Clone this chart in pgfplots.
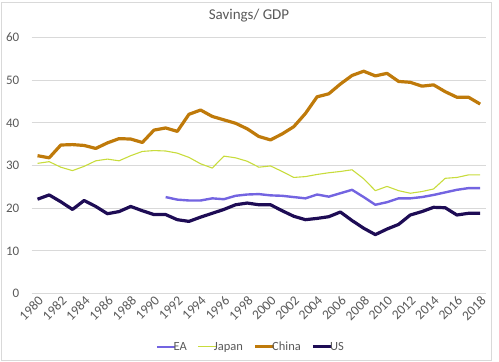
\documentclass[border=0pt]{standalone}
\usepackage{fontspec}
\setmainfont{Carlito}
\usepackage{pgfplots}
\pgfplotsset{compat=1.18}
\definecolor{txtgray}{RGB}{89,89,89}
\definecolor{gridgray}{RGB}{217,217,217}
\definecolor{frame}{RGB}{217,217,217}
\definecolor{eacol}{RGB}{115,100,225}
\definecolor{jpcol}{RGB}{200,220,60}
\definecolor{cncol}{RGB}{191,122,10}
\definecolor{uscol}{RGB}{30,12,85}
\begin{document}
\begin{tikzpicture}
\begin{axis}[
  at={(0,0)}, anchor=south west,
  scale only axis, width=454.3bp, height=256bp,
  xmin=1979.5, xmax=2018.5, ymin=0, ymax=60,
  xtick={1980,1982,...,2018},
  ytick={0,10,...,60},
  /pgf/number format/1000 sep={},
  /pgf/number format/assume math mode=true,
  ymajorgrids, grid style={gridgray, line width=0.75bp},
  axis line style={draw=none},
  major tick length=0pt,
  yticklabel style={font=\fontsize{13bp}{15bp}\selectfont, text=txtgray, xshift=-9bp},
  xticklabel style={font=\fontsize{13.5bp}{15bp}\selectfont, text=txtgray, rotate=45, anchor=north east, inner sep=1bp},
  legend columns=4,
  legend style={draw=none, fill=none, at={(0.4805,-0.208)}, anchor=center,
    font=\fontsize{12.5bp}{14bp}\selectfont, text=txtgray,
    nodes={inner xsep=0.5bp, inner ysep=1bp},
    /tikz/every odd column/.append style={column sep=0bp},
    /tikz/every even column/.append style={column sep=10bp},
    inner sep=0pt},
  legend image code/.code={\draw[#1] (0bp,0bp) -- (15bp,0bp);
    \draw[#1, line cap=butt, overlay] (14bp,0bp) -- (18.5bp,0bp);},
  legend cell align=left,
]
\addplot[eacol, line width=2.4bp, line join=round] coordinates {
(1991,22.6)(1992,22.0)(1993,21.8)(1994,21.8)(1995,22.3)(1996,22.1)(1997,22.9)(1998,23.2)(1999,23.3)(2000,23.0)
(2001,22.9)(2002,22.6)(2003,22.3)(2004,23.2)(2005,22.7)(2006,23.5)(2007,24.3)(2008,22.6)(2009,20.8)(2010,21.4)
(2011,22.3)(2012,22.3)(2013,22.6)(2014,23.1)(2015,23.7)(2016,24.3)(2017,24.7)(2018,24.7)};
\addlegendentry{EA}
\addplot[jpcol, line width=1.1bp, line join=round] coordinates {
(1980,30.5)(1981,30.9)(1982,29.6)(1983,28.8)(1984,29.8)(1985,31.1)(1986,31.5)(1987,31.1)(1988,32.3)(1989,33.3)
(1990,33.5)(1991,33.4)(1992,32.9)(1993,31.9)(1994,30.4)(1995,29.4)(1996,32.2)(1997,31.8)(1998,31.0)(1999,29.6)
(2000,29.9)(2001,28.6)(2002,27.2)(2003,27.4)(2004,27.9)(2005,28.3)(2006,28.6)(2007,29.0)(2008,26.9)(2009,24.1)
(2010,25.1)(2011,24.1)(2012,23.5)(2013,23.9)(2014,24.5)(2015,27.0)(2016,27.2)(2017,27.8)(2018,27.8)};
\addlegendentry{Japan}
\addplot[cncol, line width=3.2bp, line join=round] coordinates {
(1980,32.3)(1981,31.8)(1982,34.8)(1983,34.9)(1984,34.7)(1985,34.0)(1986,35.3)(1987,36.3)(1988,36.2)(1989,35.4)
(1990,38.3)(1991,38.8)(1992,38.0)(1993,42.0)(1994,43.0)(1995,41.5)(1996,40.7)(1997,39.9)(1998,38.6)(1999,36.8)
(2000,36.0)(2001,37.4)(2002,39.1)(2003,42.2)(2004,46.1)(2005,46.8)(2006,49.1)(2007,51.1)(2008,52.1)(2009,51.0)
(2010,51.6)(2011,49.7)(2012,49.5)(2013,48.6)(2014,48.9)(2015,47.3)(2016,46.0)(2017,46.0)(2018,44.4)};
\addlegendentry{China}
\addplot[uscol, line width=3.2bp, line join=round] coordinates {
(1980,22.1)(1981,23.1)(1982,21.5)(1983,19.7)(1984,21.8)(1985,20.4)(1986,18.7)(1987,19.2)(1988,20.4)(1989,19.4)
(1990,18.5)(1991,18.5)(1992,17.3)(1993,16.9)(1994,17.9)(1995,18.8)(1996,19.7)(1997,20.8)(1998,21.2)(1999,20.8)
(2000,20.8)(2001,19.4)(2002,18.1)(2003,17.3)(2004,17.6)(2005,18.0)(2006,19.1)(2007,17.1)(2008,15.3)(2009,13.8)
(2010,15.1)(2011,16.2)(2012,18.4)(2013,19.2)(2014,20.2)(2015,20.1)(2016,18.4)(2017,18.8)(2018,18.8)};
\addlegendentry{US}
\end{axis}
\node[text=txtgray, font=\fontsize{15bp}{17bp}\selectfont] at (217.3bp,277.8bp) {Savings/ GDP};
\draw[frame, line width=0.75bp] (-30.7bp,-66.5bp) rectangle (459.3bp,291.5bp);
\pgfresetboundingbox
\path[use as bounding box] (-31.7bp,-68.5bp) rectangle (467.3bp,293.5bp);
\end{tikzpicture}
\end{document}
